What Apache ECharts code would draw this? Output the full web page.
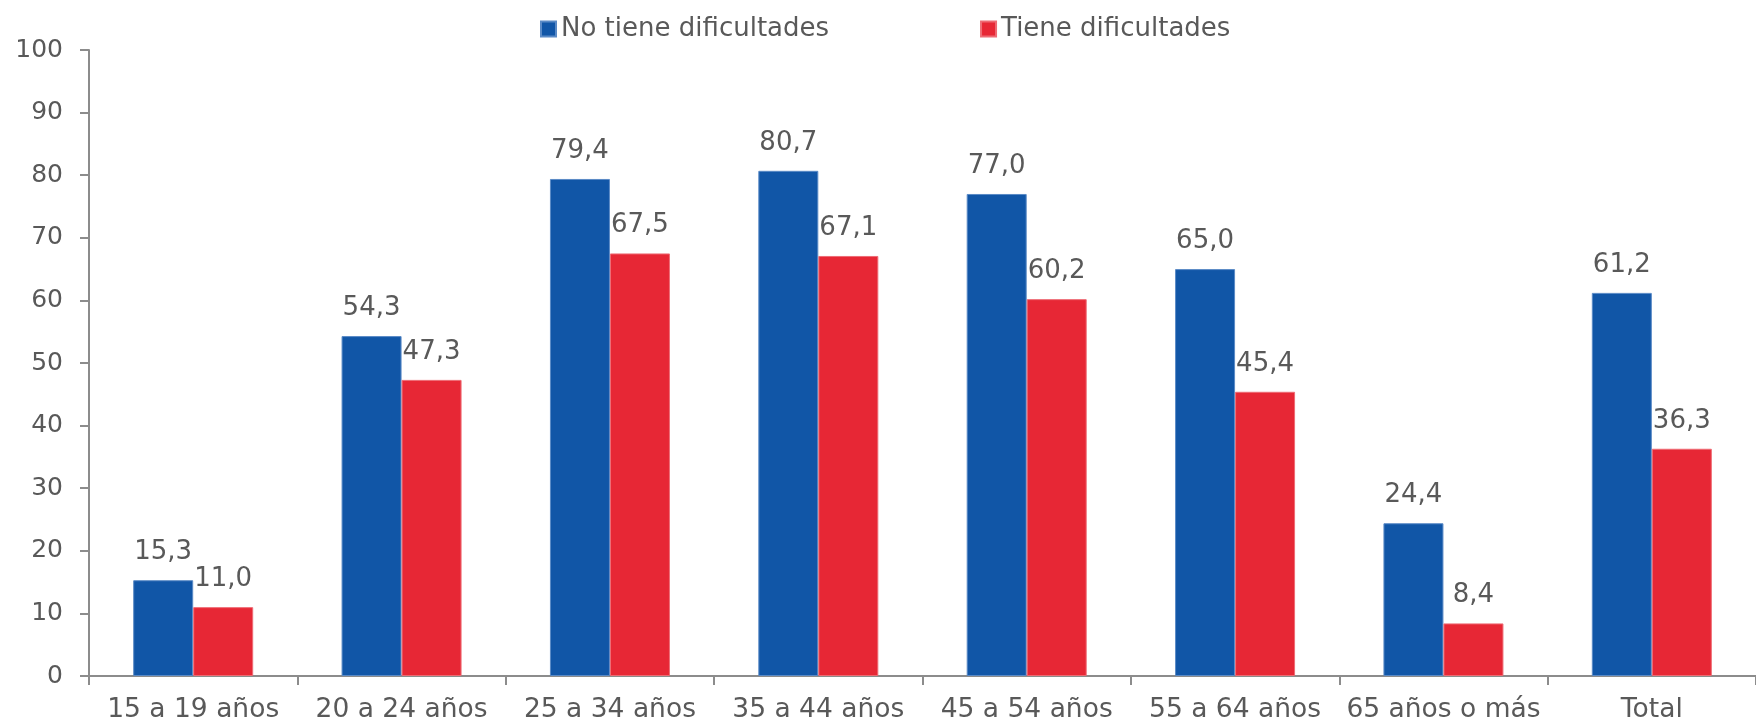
<!DOCTYPE html>
<html>
<head>
<meta charset="utf-8">
<script src="https://cdn.jsdelivr.net/npm/echarts@6/dist/echarts.min.js"></script>
<style>
html,body{margin:0;padding:0;background:#fff;}
#chart{width:1756px;height:724px;}
</style>
</head>
<body>
<div id="chart"></div>
<script>
const categories = ['15 a 19 años','20 a 24 años','25 a 34 años','35 a 44 años','45 a 54 años','55 a 64 años','65 años o más','Total'];
const seriesNames = ['No tiene dificultades','Tiene dificultades'];
const noTieneDificultades = [15.3, 54.3, 79.4, 80.7, 77.0, 65.0, 24.4, 61.2];
const tieneDificultades = [11.0, 47.3, 67.5, 67.1, 60.2, 45.4, 8.4, 36.3];

const FONT = 'DejaVu Sans';
const TXT = '#595959';
const AXIS = '#8C8C8C';
const fmt = p => p.value.toFixed(1).replace('.', ',');

const chart = echarts.init(document.getElementById('chart'), null, {renderer: 'canvas'});
chart.setOption({
  animation: false,
  backgroundColor: '#ffffff',
  textStyle: {fontFamily: FONT, color: TXT},
  legend: {
    left: 535, top: 11,
    itemWidth: 15, itemHeight: 15, itemGap: 151,
    icon: 'rect',
    textStyle: {fontFamily: FONT, fontSize: 26, color: TXT, padding: [0, 0, 0, 0]},
    data: seriesNames
  },
  grid: {left: 89, top: 50, width: 1678, height: 626, containLabel: false},
  xAxis: {
    type: 'category',
    data: categories,
    axisLine: {lineStyle: {color: AXIS, width: 2}},
    axisTick: {show: true, length: 9, lineStyle: {color: AXIS, width: 2}},
    axisLabel: {fontFamily: FONT, fontSize: 26.5, color: TXT, margin: 21, interval: 0}
  },
  yAxis: {
    type: 'value',
    min: 0, max: 100, interval: 10,
    splitLine: {show: false},
    axisLine: {show: true, lineStyle: {color: AXIS, width: 2}},
    axisTick: {show: true, length: 9, lineStyle: {color: AXIS, width: 2}},
    axisLabel: {fontFamily: FONT, fontSize: 25, color: TXT, margin: 26}
  },
  series: [
    {
      name: seriesNames[0], type: 'bar', data: noTieneDificultades,
      barWidth: 60, barGap: '0%',
      itemStyle: {color: '#1156A7', borderColor: '#5A8AC6', borderWidth: 1},
      label: {show: true, position: 'top', distance: 15, formatter: fmt, fontFamily: FONT, fontSize: 26, color: TXT}
    },
    {
      name: seriesNames[1], type: 'bar', data: tieneDificultades,
      barWidth: 60, barGap: '0%',
      itemStyle: {color: '#E72735', borderColor: '#EE6B74', borderWidth: 1},
      label: {show: true, position: 'top', distance: 15, formatter: fmt, fontFamily: FONT, fontSize: 26, color: TXT}
    }
  ]
});
</script>
</body>
</html>
